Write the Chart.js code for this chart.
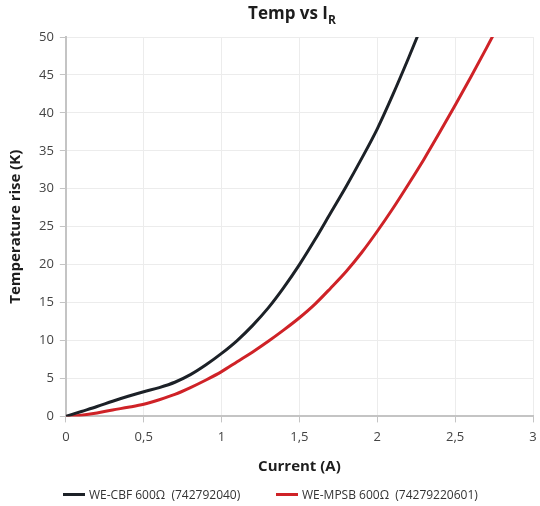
<!DOCTYPE html>
<html>
<head>
<meta charset="utf-8">
<script src="https://cdn.jsdelivr.net/npm/chart.js@4.4.0/dist/chart.umd.min.js"></script>
<style>
  html, body { margin: 0; padding: 0; background: #fff; }
  #wrap { position: relative; width: 540px; height: 506px; }
  #title {
    position: absolute; top: 1px; left: 292px; transform: translateX(-50%);
    font: bold 17px "Open Sans", sans-serif; color: #1d1d1d; white-space: nowrap;
  }
  #title sub { font-size: 12px; vertical-align: -5px; line-height: 0; }
  .leg {
    position: absolute; top: 487px; font: 12px "Open Sans", sans-serif; color: #333;
    white-space: nowrap; line-height: 16px;
  }
  .leg i { display: inline-block; width: 22px; height: 3px; vertical-align: middle; margin-right: 4px; margin-top: -2px; }
</style>
</head>
<body>
<div id="wrap">
  <div id="title">Temp vs I<sub>R</sub></div>
  <canvas id="chart" width="540" height="506"></canvas>
  <div id="legend"></div>
</div>
<script>
// Current (A) sample points
const currents = [0, 0.1, 0.2, 0.3, 0.4, 0.5, 0.6, 0.7, 0.8, 0.9, 1.0,
                  1.1, 1.2, 1.3, 1.4, 1.5, 1.6, 1.7, 1.8, 1.9, 2.0,
                  2.1, 2.2, 2.3, 2.4, 2.5, 2.6, 2.7, 2.8];

// Temperature rise (K), WE-CBF 600Ω
const tempCbf = [0, 0.65, 1.3, 2.0, 2.65, 3.25, 3.8, 4.5, 5.5, 6.8, 8.3,
                 10.0, 12.0, 14.3, 17.0, 20.0, 23.3, 26.8, 30.3, 34.0, 37.9,
                 42.4, 47.2, 52.2];

// Temperature rise (K), WE-MPSB 600Ω
const tempMpsb = [0, 0.15, 0.45, 0.85, 1.2, 1.6, 2.2, 2.9, 3.8, 4.8, 5.9,
                  7.2, 8.5, 9.9, 11.4, 13.0, 14.8, 16.9, 19.1, 21.6, 24.4,
                  27.4, 30.6, 33.9, 37.4, 41.0, 44.7, 48.5, 52.4];

const seriesNames = ['WE-CBF 600Ω  (742792040)', 'WE-MPSB 600Ω  (74279220601)'];
const seriesColors = ['#1c2127', '#cf2227'];
const xTickLabels = ['0', '0,5', '1', '1,5', '2', '2,5', '3'];
const yTickLabels = ['0', '5', '10', '15', '20', '25', '30', '35', '40', '45', '50'];

const toPoints = ys => ys.map((y, i) => ({ x: currents[i], y: y }));

const font = '"Open Sans", sans-serif';

const chart = new Chart(document.getElementById('chart'), {
    type: 'scatter',
    data: {
        datasets: [tempCbf, tempMpsb].map((ys, i) => ({
            label: seriesNames[i],
            data: toPoints(ys),
            showLine: true,
            borderColor: seriesColors[i],
            backgroundColor: seriesColors[i],
            borderWidth: 3,
            pointRadius: 0,
            cubicInterpolationMode: 'monotone'
        }))
    },
    options: {
        responsive: false,
        animation: false,
        layout: { padding: { top: 37, right: 7, left: 7, bottom: 30 } },
        plugins: {
            tooltip: { enabled: false },
            legend: { display: false }
        },
        scales: {
            x: {
                type: 'linear',
                min: 0, max: 3,
                afterFit: scale => { scale.paddingRight = 0; },
                ticks: {
                    stepSize: 0.5,
                    color: '#444',
                    padding: 7,
                    font: { family: font, size: 13 },
                    callback: (v, i) => xTickLabels[i]
                },
                grid: { color: '#ececec', tickColor: '#c4c4c4', tickLength: 6 },
                border: { color: '#c4c4c4', width: 2 },
                title: {
                    display: true, text: 'Current (A)', color: '#1d1d1d',
                    font: { family: font, size: 15, weight: 'bold' },
                    padding: { top: 6, bottom: 0 }
                }
            },
            y: {
                min: 0, max: 50,
                ticks: {
                    stepSize: 5,
                    color: '#444',
                    padding: 6,
                    font: { family: font, size: 13 },
                    callback: (v, i) => yTickLabels[i]
                },
                grid: { color: '#ececec', tickColor: '#c4c4c4', tickLength: 6 },
                border: { color: '#c4c4c4', width: 2 },
                title: {
                    display: true, text: 'Temperature rise (K)', color: '#1d1d1d',
                    font: { family: font, size: 15, weight: 'bold' },
                    padding: { top: 0, bottom: 8 }
                }
            }
        }
    }
});

// legend, built from the chart's own datasets
const legendLeft = [63, 276];
document.getElementById('legend').innerHTML = chart.data.datasets.map((ds, i) =>
    `<div class="leg" style="left:${legendLeft[i]}px"><i style="background:${ds.borderColor}"></i>${ds.label.replace(/ /g, '&nbsp;')}</div>`
).join('');
</script>
</body>
</html>
